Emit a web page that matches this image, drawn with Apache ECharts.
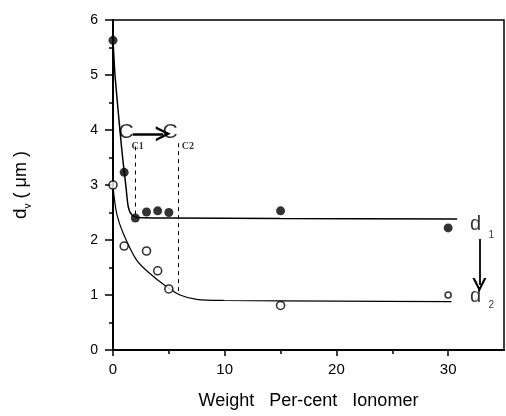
<!DOCTYPE html>
<html>
<head>
<meta charset="utf-8">
<script src="https://cdn.jsdelivr.net/npm/echarts@6/dist/echarts.min.js"></script>
<style>
  html, body { margin: 0; padding: 0; background: #fff; }
  #chart { width: 506px; height: 416px; }
</style>
</head>
<body>
<div id="chart"></div>
<script>
// measured points (filled = d1, open = d2)
const d1X = [0, 1, 2, 3, 4, 5, 15, 30]
const d1Y = [5.63, 3.23, 2.4, 2.51, 2.53, 2.5, 2.53, 2.22]
const d2X = [0, 1, 3, 4, 5, 15, 30]
const d2Y = [3.0, 1.89, 1.8, 1.44, 1.11, 0.81, 1.0]

// hand-drawn fit curves
const fit1X = [0, 0.18, 0.62, 0.86, 1.16, 1.37, 1.67, 2.2, 5, 15, 30.8]
const fit1Y = [5.65, 5.0, 4.0, 3.5, 2.97, 2.6, 2.46, 2.41, 2.4, 2.39, 2.38]
const fit2X = [0, 0.33, 0.92, 2.1, 3.3, 4.8, 6, 7.5, 10, 20, 30.3]
const fit2Y = [2.98, 2.48, 2.12, 1.64, 1.39, 1.15, 1.0, 0.92, 0.9, 0.89, 0.88]

// axes
const xMajorTicks = [0, 10, 20, 30]
const xMinorTicks = [5, 15, 25]
const yTicks = [0, 1, 2, 3, 4, 5, 6]

// critical concentrations marked by dashed lines
const cLines = [
  { x: 2, top: 3.7, bottom: 2.45 },
  { x: 5.85, top: 3.76, bottom: 1.03 }
]

const font = 'Liberation Sans, Arial, sans-serif'
const serif = 'Liberation Serif, Times New Roman, serif'
const chevron = 'path://M5,0 L10,10 L8.3,10 L5,3.4 L1.7,10 L0,10 Z'

const pairs = (xs, ys) => xs.map((x, i) => [x, ys[i]])

const chart = echarts.init(document.getElementById('chart'))

const annotations = [
  { value: [1.22, 3.95], text: 'C', size: 21, family: font, weight: 'normal' },
  { value: [5.16, 3.95], text: 'C', size: 21, family: font, weight: 'normal' },
  { value: [2.25, 3.69], text: 'C1', size: 10, family: serif, weight: 'bold' },
  { value: [6.75, 3.69], text: 'C2', size: 10, family: serif, weight: 'bold' },
  { value: [32.5, 2.27], text: 'd', size: 20, family: font, weight: 'normal' },
  { value: [33.9, 2.08], text: '1', size: 10, family: font, weight: 'normal' },
  { value: [32.5, 0.96], text: 'd', size: 20, family: font, weight: 'normal' },
  { value: [33.9, 0.8], text: '2', size: 10, family: font, weight: 'normal' }
]

chart.setOption({
  animation: false,
  backgroundColor: '#fff',
  grid: {
    left: 113,
    right: 2,
    top: 20,
    bottom: 66,
    show: true,
    borderColor: '#000',
    borderWidth: 1.5
  },
  xAxis: [{
    type: 'value',
    min: 0,
    max: 35,
    name: 'Weight   Per-cent   Ionomer',
    nameLocation: 'middle',
    nameGap: 42,
    nameTextStyle: { fontFamily: font, fontSize: 18, color: '#000' },
    axisLine: { lineStyle: { color: '#000', width: 2 } },
    axisTick: { customValues: xMajorTicks, length: 6, lineStyle: { color: '#000', width: 1.5 } },
    axisLabel: { customValues: xMajorTicks, margin: 12, fontFamily: font, fontSize: 15, color: '#000' },
    splitLine: { show: false }
  }, {
    type: 'value',
    min: 0,
    max: 35,
    position: 'bottom',
    axisLine: { show: false },
    axisTick: { customValues: xMinorTicks, length: 4, lineStyle: { color: '#000', width: 1.5 } },
    axisLabel: { show: false },
    splitLine: { show: false }
  }],
  yAxis: {
    type: 'value',
    min: 0,
    max: 6,
    interval: 1,
    name: '{d|d}{v|v}{t| ( μm )}',
    nameLocation: 'middle',
    nameRotate: 90,
    nameGap: 80,
    nameTextStyle: {
      color: '#000',
      rich: {
        d: { fontFamily: font, fontSize: 19, color: '#000', lineHeight: 24, verticalAlign: 'middle' },
        v: { fontFamily: font, fontSize: 10, color: '#000', lineHeight: 24, verticalAlign: 'bottom' },
        t: { fontFamily: font, fontSize: 18, color: '#000', lineHeight: 24, verticalAlign: 'middle' }
      }
    },
    axisLine: { lineStyle: { color: '#000', width: 2 } },
    axisTick: { customValues: yTicks, length: 8, lineStyle: { color: '#000', width: 1.5 } },
    minorTick: { show: true, splitNumber: 2, length: 4, lineStyle: { color: '#000', width: 1.5 } },
    axisLabel: { margin: 15, fontFamily: font, fontSize: 14, color: '#000' },
    splitLine: { show: false }
  },
  series: [{
    name: 'fit d1',
    type: 'line',
    data: pairs(fit1X, fit1Y),
    smooth: 0.3,
    showSymbol: false,
    lineStyle: { color: '#000', width: 1.5 },
    markLine: {
      silent: true,
      symbol: ['none', chevron],
      symbolSize: 15,
      label: { show: false },
      lineStyle: { color: '#000', width: 2.5, type: 'solid' },
      data: [
        [{ coord: [1.76, 3.93] }, { coord: [4.5, 3.93] }]
      ]
    }
  }, {
    name: 'fit d2',
    type: 'line',
    data: pairs(fit2X, fit2Y),
    smooth: 0.3,
    showSymbol: false,
    lineStyle: { color: '#000', width: 1.2 },
    markLine: {
      silent: true,
      symbol: ['none', chevron],
      symbolSize: 14,
      label: { show: false },
      lineStyle: { color: '#000', width: 1.8, type: 'solid' },
      data: [
        [{ coord: [32.8, 2.02] }, { coord: [32.8, 1.18] }]
      ]
    }
  }, {
    name: 'C lines',
    type: 'line',
    data: [],
    markLine: {
      silent: true,
      symbol: 'none',
      label: { show: false },
      lineStyle: { color: '#000', width: 1, type: [4, 4] },
      data: cLines.map(c => [{ coord: [c.x, c.top] }, { coord: [c.x, c.bottom] }])
    }
  }, {
    name: 'd1',
    type: 'scatter',
    data: pairs(d1X, d1Y),
    symbol: 'circle',
    symbolSize: 9,
    itemStyle: { color: '#000' },
    z: 5
  }, {
    name: 'd2',
    type: 'scatter',
    data: pairs(d2X, d2Y).map(p => p[0] === 30 ? { value: p, symbolSize: 6 } : p),
    symbol: 'circle',
    symbolSize: 8,
    itemStyle: { color: '#fff', borderColor: '#000', borderWidth: 1.6 },
    z: 5
  }, {
    name: 'labels',
    type: 'scatter',
    symbol: 'circle',
    symbolSize: 1,
    silent: true,
    itemStyle: { color: 'rgba(0,0,0,0)' },
    data: annotations.map(a => ({
      value: a.value,
      label: {
        show: true,
        position: [0, 0],
        align: 'center',
        verticalAlign: 'middle',
        formatter: a.text,
        fontFamily: a.family,
        fontSize: a.size,
        fontWeight: a.weight,
        color: '#000',
        textBorderWidth: 0
      }
    }))
  }]
})
</script>
</body>
</html>
